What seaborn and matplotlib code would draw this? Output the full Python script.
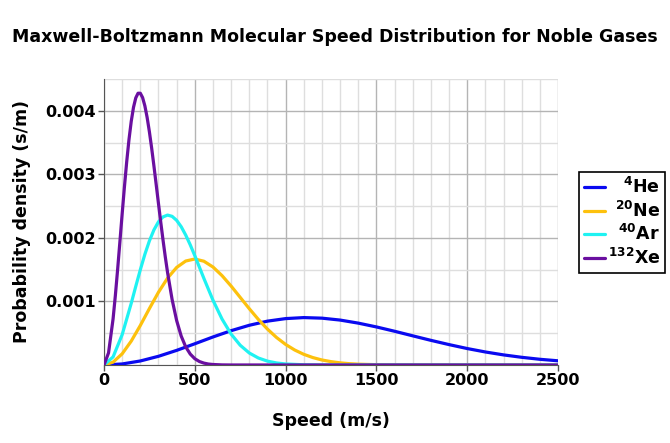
import numpy as np
import pandas as pd
import seaborn as sns
import matplotlib
matplotlib.use("Agg")
import matplotlib.pyplot as plt
from matplotlib.ticker import MultipleLocator

# values, density in units of 1e-3 s/m
he_speed = [0, 100, 200, 300, 400, 500, 600, 700, 800, 900, 1000, 1100, 1200,
            1300, 1400, 1500, 1600, 1700, 1800, 1900, 2000, 2100, 2200, 2300, 2400, 2500]
he_dens = [0, 0.0162, 0.0634, 0.137, 0.230, 0.334, 0.441, 0.540, 0.625, 0.690, 0.730,
           0.746, 0.737, 0.707, 0.659, 0.599, 0.531, 0.459, 0.388, 0.321, 0.259,
           0.205, 0.159, 0.121, 0.090, 0.066]

ne_speed = [0, 50, 100, 150, 200, 250, 300, 350, 400, 450, 500, 550, 600, 650, 700,
            750, 800, 850, 900, 950, 1000, 1050, 1100, 1150, 1200, 1250, 1300, 1350,
            1400, 1500, 1600, 2500]
ne_dens = [0, 0.045, 0.176, 0.376, 0.622, 0.888, 1.145, 1.367, 1.535, 1.636, 1.668,
           1.633, 1.542, 1.406, 1.242, 1.064, 0.886, 0.717, 0.565, 0.433, 0.324,
           0.236, 0.168, 0.117, 0.079, 0.053, 0.034, 0.021, 0.013, 0.005, 0.0015, 0]

ar_speed = [0, 50, 100, 150, 175, 200, 225, 250, 275, 300, 325, 350, 375, 400, 425,
            450, 475, 500, 525, 550, 600, 650, 700, 750, 800, 850, 900, 950, 1000,
            1100, 1200, 2500]
ar_dens = [0, 0.127, 0.477, 0.971, 1.238, 1.499, 1.741, 1.953, 2.126, 2.253, 2.330,
           2.359, 2.339, 2.276, 2.176, 2.044, 1.890, 1.720, 1.542, 1.363, 1.020,
           0.723, 0.486, 0.311, 0.189, 0.110, 0.061, 0.032, 0.016, 0.0036, 0.0007, 0]

xe_speed = [0, 25, 50, 62.5, 75, 87.5, 100, 112.5, 125, 137.5, 150, 162.5, 175, 187.5,
            200, 212.5, 225, 237.5, 250, 262.5, 275, 287.5, 300, 312.5, 325, 337.5,
            350, 375, 400, 425, 450, 475, 500, 525, 550, 575, 600, 650, 700, 2500]
xe_dens = [0, 0.191, 0.726, 1.092, 1.502, 1.937, 2.377, 2.803, 3.197, 3.545, 3.834,
           4.055, 4.203, 4.276, 4.276, 4.208, 4.078, 3.895, 3.669, 3.411, 3.130,
           2.836, 2.539, 2.247, 1.966, 1.701, 1.455, 1.031, 0.700, 0.456, 0.285,
           0.172, 0.099, 0.055, 0.030, 0.015, 0.008, 0.0017, 0.0003, 0]

gases = ["$^{4}$He", "$^{20}$Ne", "$^{40}$Ar", "$^{132}$Xe"]
colores = ["#0a0af0", "#fdc10d", "#1ff2f2", "#6a0fa0"]

speeds = [he_speed, ne_speed, ar_speed, xe_speed]
dens = [he_dens, ne_dens, ar_dens, xe_dens]

sns.set_style("white", rc={"text.color": "black", "axes.labelcolor": "black",
                           "xtick.color": "black", "ytick.color": "black"})
plt.rcParams["font.family"] = ["DejaVu Sans"]
plt.rcParams["font.weight"] = "bold"
plt.rcParams["mathtext.default"] = "bf"

fig = plt.figure(figsize=(6.7, 4.43), dpi=100)
ax = fig.add_axes([104/670, 1-365/443, 454/670, 286/443])

for nombre, c, s, d in zip(gases, colores, speeds, dens):
    df = pd.DataFrame({"speed": s, "density": np.array(d)*1e-3})
    sns.lineplot(data=df, x="speed", y="density", color=c, lw=2.3, label=nombre,
                 ax=ax, sort=False, estimator=None, zorder=3,
                 solid_joinstyle="round", solid_capstyle="round")

ax.set_xlim(0, 2500)
ax.set_ylim(0, 0.0045)
ax.xaxis.set_major_locator(MultipleLocator(500))
ax.xaxis.set_minor_locator(MultipleLocator(100))
ax.yaxis.set_major_locator(MultipleLocator(0.001))
ax.yaxis.set_minor_locator(MultipleLocator(0.0005))
ax.set_yticks([0.001, 0.002, 0.003, 0.004])
ax.grid(which="major", color="#b4b4b4", lw=1.0)
ax.grid(which="minor", color="#dedede", lw=1.0)
ax.set_axisbelow(True)
for lado in ["top", "right"]:
    ax.spines[lado].set_visible(False)
for lado in ["left", "bottom"]:
    ax.spines[lado].set_color("#555555")
ax.tick_params(which="major", direction="out", length=4, width=1, color="#555555",
               labelsize=11.5, left=True, bottom=True, pad=2)
ax.tick_params(which="minor", length=0)

ax.set_xlabel("Speed (m/s)", fontsize=12.5, fontweight="bold", labelpad=17)
ax.set_ylabel("Probability density (s/m)", fontsize=12.5, fontweight="bold", labelpad=10)
fig.suptitle("Maxwell-Boltzmann Molecular Speed Distribution for Noble Gases",
             fontsize=12.5, fontweight="bold", x=0.5, y=1-37/443, va="center")

leg = ax.legend(loc="upper left", bbox_to_anchor=(579/670, 1-172/443),
                bbox_transform=fig.transFigure, borderaxespad=0, fancybox=False,
                edgecolor="black", framealpha=1, fontsize=12.5, handlelength=1.2,
                labelspacing=0.2, borderpad=0.3, handletextpad=0.15)
leg.get_frame().set_linewidth(1.2)
for linea in leg.get_lines():
    linea.set_linewidth(2.3)

# labels right aligned inside the legend like the original
fig.canvas.draw()
r = fig.canvas.get_renderer()
anchos = [t.get_window_extent(r).width for t in leg.get_texts()]
for t, w in zip(leg.get_texts(), anchos):
    t.set_x(max(anchos) - w)

fig.savefig("out.png", dpi=100)
